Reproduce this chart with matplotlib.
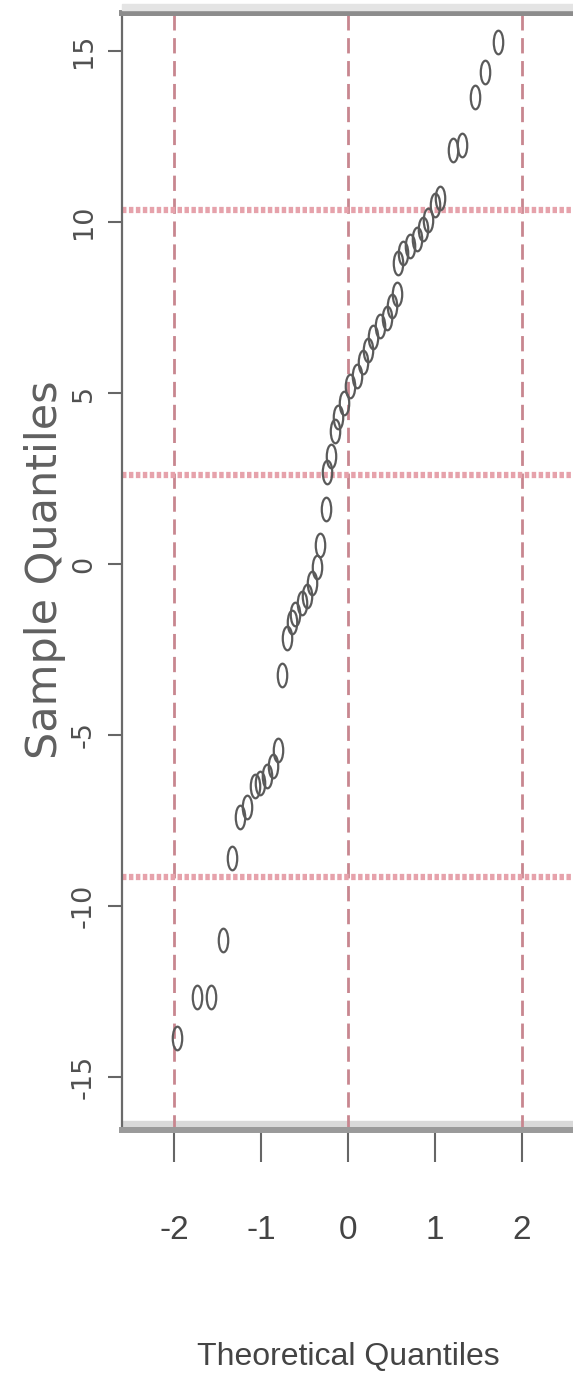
import matplotlib
matplotlib.use("Agg")
import matplotlib.pyplot as plt
from matplotlib.path import Path
from matplotlib.transforms import Affine2D
from matplotlib.patches import Rectangle

plt.rcParams['axes.unicode_minus'] = False
plt.rcParams['lines.scale_dashes'] = False

# theoretical vs sample quantiles
theo = [1.72, 1.57, 1.46, 1.31, 1.21, 1.06, 1.00, 0.92, 0.86, 0.79,
        0.71, 0.63, 0.57, 0.56, 0.50, 0.45, 0.37, 0.29, 0.23, 0.17,
        0.10, 0.02, -0.05, -0.11, -0.15, -0.19, -0.24, -0.25, -0.32, -0.36,
        -0.41, -0.47, -0.53, -0.61, -0.64, -0.70, -0.76, -0.80, -0.86, -0.93,
        -1.01, -1.07, -1.16, -1.24, -1.33, -1.44, -1.58, -1.74, -1.97]
sample = [15.26, 14.4, 13.65, 12.25, 12.1, 10.7, 10.5, 10.05, 9.8, 9.5,
          9.3, 9.1, 8.8, 7.9, 7.55, 7.2, 6.95, 6.65, 6.25, 5.9,
          5.5, 5.2, 4.7, 4.3, 3.9, 3.15, 2.7, 1.6, 0.55, -0.1,
          -0.55, -0.95, -1.15, -1.45, -1.7, -2.15, -3.25, -5.45, -5.9, -6.2,
          -6.4, -6.5, -7.1, -7.4, -8.6, -11.0, -12.65, -12.65, -13.85]

vlines = [-2, 0, 2]
hlines = [10.35, 2.6, -9.15]
xticks = [-2, -1, 0, 1, 2]
yticks = [-15, -10, -5, 0, 5, 10, 15]

W, H = 573, 1395
narrow = ['Liberation Sans Narrow', 'DejaVu Sans Condensed', 'Liberation Sans']

fig = plt.figure(figsize=(W / 100, H / 100), dpi=100)
top, bottom, left = 13, 1130, 122
ax = fig.add_axes([left / W, 1 - bottom / H, (590 - left) / W, (bottom - top) / H])
ax.set_xlim((left - 348) / 87, (590 - 348) / 87)
ax.set_ylim((564 - bottom) / 34.2, (564 - top) / 34.2)

# pale bands next to the thick top/bottom frame
fig.patches.append(Rectangle((left / W, 1 - 10 / H), 1, 6 / H,
                             transform=fig.transFigure, color='#e4e4e4', zorder=0))
ax.add_patch(Rectangle((left / W, 1 - 1127 / H), 1, 6 / H,
                       transform=fig.transFigure, color='#d9d9d9', zorder=0.5))

for v in vlines:
    ax.axvline(v, color='#c8868f', lw=2.0, dashes=[11, 5.5], zorder=1)
for h in hlines:
    ax.axhline(h, color='#e6a2ab', lw=4.5, dashes=[3.2, 1.8], zorder=1)

# tall ellipse marker
ell = Path.unit_circle().transformed(Affine2D().scale(0.4, 1.0))
ax.plot(theo, sample, ls='none', marker=ell, markersize=17,
        markerfacecolor='none', markeredgecolor='#5a5a5a', markeredgewidth=1.6,
        zorder=3)

ax.spines['right'].set_visible(False)
ax.spines['left'].set_color('#6a6a6a')
ax.spines['left'].set_linewidth(1.6)
ax.spines['top'].set_color('#8c8c8c')
ax.spines['top'].set_linewidth(4.3)
ax.spines['bottom'].set_color('#9a9a9a')
ax.spines['bottom'].set_linewidth(4.3)

ax.set_xticks(xticks)
ax.set_xticklabels([str(t) for t in xticks], family=narrow,
                   fontsize=24, color='#444444')
ax.set_yticks(yticks)
ax.set_yticklabels([str(t) for t in yticks], rotation=90, va='center',
                   fontsize=19.5, color='#505050')
ax.tick_params(axis='x', length=23, width=1.5, color='#666666', pad=38)
ax.tick_params(axis='y', length=10, width=1.5, color='#666666', pad=8)

fig.text(45 / W, 1 - 570 / H, 'Sample Quantiles', rotation=90,
         ha='center', va='center', fontsize=31, color='#606060')
fig.text(348 / W, 1 - 1357 / H, 'Theoretical Quantiles', ha='center', va='center',
         family=narrow, fontsize=23, color='#444444')

fig.savefig('out.png', dpi=100)
